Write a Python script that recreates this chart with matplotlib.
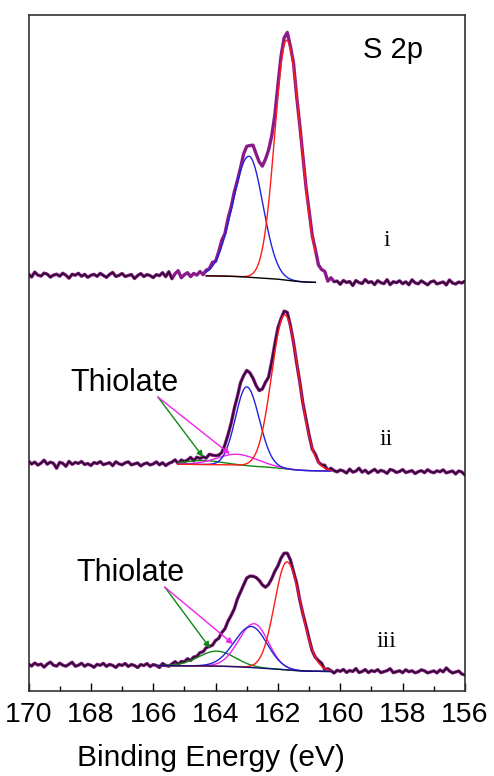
import numpy as np
import matplotlib
matplotlib.use("Agg")
import matplotlib.pyplot as plt
from matplotlib.ticker import MultipleLocator

# binding energy grid of the measured spectra (eV), 170 -> 156
energy = np.round(np.arange(170.0, 155.95, -0.1), 2)

# background levels (left end, right end, Shirley step) per spectrum, arb. units
bg_i = (416, 408, 6)
bg_ii = (228, 219, 5.5)
bg_iii = (26, 19, 5)

# fitted peaks: centre (eV), height, sigma high-BE side, sigma low-BE side
peaks_i = {
    "red": (161.72, 240, 0.38, 0.45),
    "blue": (162.93, 121, 0.52, 0.45),
}
peaks_ii = {
    "red": (161.78, 154, 0.42, 0.45),
    "blue": (163.00, 79, 0.36, 0.40),
    "magenta": (163.30, 11, 0.65, 0.65),
    "green": (164.40, 4, 0.60, 0.60),
}
peaks_iii = {
    "red": (161.71, 108, 0.40, 0.45),
    "blue": (162.85, 41, 0.55, 0.50),
    "magenta": (162.76, 44, 0.50, 0.45),
    "green": (163.96, 15, 0.58, 0.58),
}

# measured minus fit envelope, one value per energy point (noise + misfit)
resid_i = [1, -2, 3, 0, -1, 2, 1, -2, 0, 1,
           -1, 2, 0, -3, 1, 0, 2, -1, 1, -2,
           0, 1, -1, 2, 0, -2, 1, 3, -1, 0,
           2, -1, 0, 1, -3, 0, 2, -1, 1, 0,
           -2, 1, 0, 3, -1, 4, -3, 2, 5, -2,
           1, 3, -1, 2, 0, 3, -1, 2, 1, 4,
           0, 3, 6, 2, 5, 3, 4, 2, 3, 8,
           10, 9, 12, 9, 7, 6, 10, 8, 2, -4,
           -3, 0, 2, 5, 1, 4, -2, 1, 3, 2,
           4, 1, 3, -1, 2, 5, -2, 3, 0, 1,
           -2, 2, 0, 1, -3, 2, 0, -1, 3, 0,
           1, -2, 2, 0, -1, 3, -2, 1, 0, 2,
           -1, 1, -2, 3, 0, -1, 2, 0, -2, 1,
           2, -1, 0, 1, -2, 3, 0, -1, 1, 0,
           2]
resid_ii = [2, -1, 1, -2, 0, 3, -1, 1, 0, -5,
            1, 0, -3, 2, -1, 1, 0, 2, -1, 0,
            -2, 1, 0, 2, -1, 0, 1, -2, 2, 0,
            -1, 1, 2, -1, 0, 1, -2, 0, 1, -1,
            0, 2, -1, 1, -2, 0, 1, 3, -1, 2,
            0, 1, 3, -1, 2, 0, 1, -1, 2, 0,
            -2, -4, -5, -3, -1, 0, 2, 1, 3, 2,
            4, 3, 2, 0, -1, 1, 3, -2, -1, 0,
            1, -1, 2, 4, 1, 0, -1, 1, 0, 2,
            1, -1, 2, 0, 1, 3, -1, 2, 0, -1,
            1, 0, -2, 2, -1, 0, 3, -1, 1, -2,
            0, 2, -1, 1, 0, -2, 2, 1, -1, 0,
            2, -1, 0, 1, -2, 0, 1, -1, 2, 0,
            -1, 1, 0, 2, -1, 0, 1, -2, 1, 0,
            -3]
resid_iii = [1, -1, 2, 0, 1, -2, 1, 3, 0, -1,
             2, 0, -1, 1, 3, -1, 0, 2, -1, 1,
             0, -2, 1, 0, 2, -1, 1, 0, -2, 1,
             0, 2, -1, 1, 0, -2, 1, 0, 2, -1,
             1, 0, -2, 2, 0, -1, 1, 3, 0, 2,
             1, 3, 0, 2, 1, 3, 2, 4, 3, 2,
             4, 3, 5, 4, 6, 5, 4, 6, 5, 5,
             6, 4, 2, 1, 0, -2, -3, -1, 1, 2,
             0, 1, 2, 3, 2, 0, 1, -1, 0, 2,
             1, -1, 0, 2, 3, -1, 1, 0, -2, 1,
             0, 2, -1, 1, 0, 3, -1, 0, 2, -1,
             1, 0, 2, -1, 0, 1, 3, -1, 0, 1,
             -1, 2, 0, 1, -1, 0, 2, 1, -1, 0,
             1, -1, 2, 0, 4, 1, -1, 0, 1, -2,
             -3]

# energy range over which the fit curves are drawn
fit_i = (160.8, 164.3)
fit_ii = (160.3, 165.2)
fit_iii = (160.3, 165.9)

colors = {"red": "#ff1a1a", "blue": "#2222dd", "magenta": "#ee22ee", "green": "#118811"}


def peak(E, c, h, s_hi, s_lo):
    s = np.where(E >= c, s_hi, s_lo)
    return h * np.exp(-(E - c) ** 2 / (2 * s ** 2))


def background(E, levels, peaks):
    left, right, step = levels
    tot = sum(peak(E, *p) for p in peaks.values())
    cum = np.cumsum(tot[::-1])[::-1]  # grid is descending, integrate from low BE
    S = cum / cum[0]
    S = (S - S.min()) / (S.max() - S.min())
    slope = (left - right - step) / 14.0
    return right + slope * (E - 156) + step * S


fig = plt.figure(figsize=(4.94, 7.76), dpi=100)
ax = fig.add_axes([0.0577, 0.1095, 0.8836, 0.8711])

spectra = [(bg_i, peaks_i, resid_i, fit_i, "#000000", True),
           (bg_ii, peaks_ii, resid_ii, fit_ii, None, False),
           (bg_iii, peaks_iii, resid_iii, fit_iii, "#101070", False)]

for levels, peaks, resid, fit, bg_col, purple_peaks in spectra:
    env = background(energy, levels, peaks) + sum(peak(energy, *p) for p in peaks.values())
    data = env + np.array(resid)
    ax.plot(energy, data, color="#8a1a8a", lw=2.4, zorder=2)
    dark = data.copy()
    if purple_peaks:
        dark[(energy > 160.2) & (energy < 165.4)] = np.nan
    ax.plot(energy, dark, color="#2a0a2a", lw=1.1, zorder=3)

    Ef = np.linspace(fit[1], fit[0], 400)
    bgf = background(Ef, levels, peaks)
    for name in ["green", "magenta", "blue", "red"]:
        if name in peaks:
            ax.plot(Ef, bgf + peak(Ef, *peaks[name]), color=colors[name], lw=1.0, zorder=4)
    if bg_col is not None:
        ax.plot(Ef, bgf, color=bg_col, lw=1.0, zorder=5)

# labels
sans = ["Liberation Sans", "DejaVu Sans"]
ax.text(159.28, 633, "S 2p", fontsize=21, family=sans)
for lab, yy in [("i", 445), ("ii", 246), ("iii", 44)]:
    ax.text(158.52, yy, lab, fontsize=17, ha="center", family=["Liberation Serif", "DejaVu Serif"])

for x0, y0 in [(168.67, 300), (168.45, 110)]:
    ax.text(x0, y0, "Thiolate", fontsize=22, family=sans)

arrows = [((165.85, 294), (164.40, 234), "#118811"), ((165.85, 294), (163.54, 237), "#ee22ee"),
          ((165.63, 104), (164.18, 43), "#118811"), ((165.63, 104), (163.44, 47), "#ee22ee")]
for start, end, col in arrows:
    ax.annotate("", xy=end, xytext=start,
                arrowprops=dict(arrowstyle="-|>", color=col, lw=1.0, mutation_scale=9,
                                shrinkA=0, shrinkB=0), zorder=6)

ax.set_xlim(170, 156)
ax.set_ylim(0, 676)
ax.set_yticks([])
x_ticks = [170, 168, 166, 164, 162, 160, 158, 156]
ax.set_xticks(x_ticks)
ax.set_xticklabels([str(t) for t in x_ticks], family=sans, fontsize=20.5)
ax.xaxis.set_minor_locator(MultipleLocator(1))
ax.tick_params(axis="x", which="major", direction="in", length=6, width=1, pad=8)
ax.tick_params(axis="x", which="minor", direction="in", length=3.5, width=1)
for sp in ax.spines.values():
    sp.set_color("#333333")
    sp.set_linewidth(1.2)

ax.set_xlabel("Binding Energy (eV)", fontsize=21.5, family=sans)
ax.xaxis.set_label_coords(0.418, -0.078)
ax.xaxis.label.set_va("top")

fig.savefig("out.png", dpi=100)
